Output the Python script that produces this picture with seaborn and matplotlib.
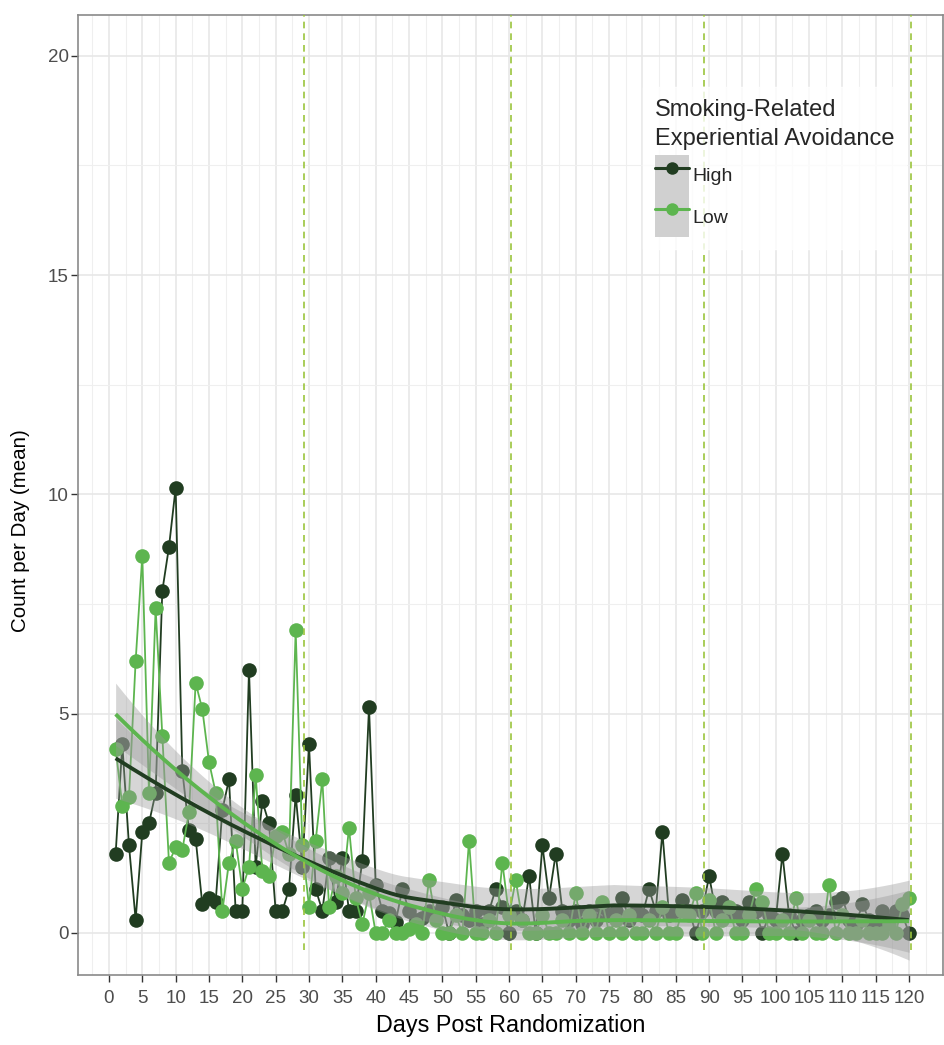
import numpy as np
import pandas as pd
import matplotlib
matplotlib.use("Agg")
import matplotlib.pyplot as plt
import seaborn as sns
from matplotlib.lines import Line2D
from matplotlib.patches import Patch
from matplotlib.legend_handler import HandlerTuple
from matplotlib.ticker import MultipleLocator

# ---- data -------------------------------------------------------------
days = list(range(1, 121))

high_counts = [
    1.8, 4.3, 2.0, 0.3, 2.3, 2.5, 3.2, 7.8, 8.8, 10.15,
    3.7, 2.35, 2.15, 0.65, 0.8, 0.7, 2.8, 3.5, 0.5, 0.5,
    6.0, 1.5, 3.0, 2.5, 0.5, 0.5, 1.0, 3.15, 1.5, 4.3,
    1.0, 0.5, 1.7, 0.7, 1.7, 0.5, 0.5, 1.65, 5.15, 1.1,
    0.5, 0.45, 0.25, 1.0, 0.5, 0.3, 0.35, 0.5, 0.4, 0.6,
    0.0, 0.75, 0.4, 0.3, 0.5, 0.2, 0.5, 1.0, 0.6, 0.0,
    0.5, 0.3, 1.3, 0.0, 2.0, 0.8, 1.8, 0.5, 0.3, 0.5,
    0.2, 0.5, 0.3, 0.6, 0.4, 0.5, 0.8, 0.3, 0.5, 0.4,
    1.0, 0.5, 2.3, 0.4, 0.5, 0.75, 0.5, 0.0, 0.5, 1.3,
    0.5, 0.7, 0.4, 0.5, 0.3, 0.7, 0.5, 0.0, 0.4, 0.3,
    1.8, 0.4, 0.0, 0.3, 0.4, 0.5, 0.3, 0.4, 0.7, 0.8,
    0.3, 0.2, 0.65, 0.3, 0.2, 0.5, 0.3, 0.5, 0.4, 0.0,
]

low_counts = [
    4.2, 2.9, 3.1, 6.2, 8.6, 3.2, 7.4, 4.5, 1.6, 1.95,
    1.9, 2.75, 5.7, 5.1, 3.9, 3.2, 0.5, 1.6, 2.1, 1.0,
    1.5, 3.6, 1.4, 1.3, 2.2, 2.3, 1.8, 6.9, 2.0, 0.6,
    2.1, 3.5, 0.6, 1.3, 0.9, 2.4, 0.8, 0.2, 0.9, 0.0,
    0.0, 0.3, 0.0, 0.0, 0.1, 0.2, 0.0, 1.2, 0.3, 0.0,
    0.0, 0.4, 0.0, 2.1, 0.0, 0.0, 0.3, 0.0, 1.6, 0.4,
    1.2, 0.3, 0.0, 0.0, 0.4, 0.0, 0.0, 0.3, 0.0, 0.9,
    0.0, 0.4, 0.0, 0.7, 0.0, 0.3, 0.0, 0.4, 0.0, 0.0,
    0.3, 0.0, 0.6, 0.0, 0.0, 0.5, 0.4, 0.9, 0.0, 0.75,
    0.0, 0.3, 0.6, 0.0, 0.0, 0.4, 1.0, 0.7, 0.0, 0.0,
    0.3, 0.0, 0.8, 0.0, 0.3, 0.0, 0.0, 1.1, 0.0, 0.4,
    0.0, 0.0, 0.3, 0.0, 0.0, 0.0, 0.2, 0.0, 0.65, 0.8,
]

group_labels = ["High", "Low"]
group_colors = {"High": "#213d21", "Low": "#5db54f"}
phase_days = [29.3, 60.3, 89.3, 120.3]
x_ticks = list(range(0, 121, 5))
y_ticks = [0, 5, 10, 15, 20]

df = pd.DataFrame({
    "Days Post Randomization": days * 2,
    "Count per Day (mean)": high_counts + low_counts,
    "group": ["High"] * len(days) + ["Low"] * len(days),
})


# ---- local quadratic regression (loess) with 95% band -----------------
def loess_fit(x, y, grid, span=0.75):
    x = np.asarray(x, float)
    y = np.asarray(y, float)
    n = len(x)
    q = int(np.floor(span * n))

    def lrow(x0):
        d = np.abs(x - x0)
        h = np.sort(d)[q - 1] * max(1.0, span)
        w = np.clip(1 - (d / h) ** 3, 0, None) ** 3
        X = np.column_stack([np.ones(n), x - x0, (x - x0) ** 2])
        XtW = X.T * w
        return np.linalg.solve(XtW @ X, XtW)[0]

    L = np.array([lrow(v) for v in x])
    resid = y - L @ y
    M = np.eye(n) - L
    delta1 = np.trace(M.T @ M)
    sigma = np.sqrt(resid @ resid / delta1)
    G = np.array([lrow(v) for v in grid])
    fit = G @ y
    se = sigma * np.sqrt((G ** 2).sum(axis=1))
    return fit, fit - 1.98 * se, fit + 1.98 * se


# ---- figure -----------------------------------------------------------
sns.set_theme(style="white")
plt.rcParams["font.family"] = ["Liberation Sans", "DejaVu Sans"]

fig = plt.figure(figsize=(9.45, 10.45), dpi=100)
ax = fig.add_axes([0.0825, 0.067, 0.9155, 0.9186])

sns.lineplot(
    data=df, x="Days Post Randomization", y="Count per Day (mean)",
    hue="group", hue_order=group_labels, palette=group_colors,
    marker="o", markersize=10.5, markeredgewidth=0, linewidth=1.3,
    legend=False, ax=ax, zorder=3,
)

grid = np.linspace(1, 120, 240)
smooths = {g: loess_fit(days, vals, grid)
           for g, vals in zip(group_labels, [high_counts, low_counts])}
for g in group_labels:
    fit, lo, hi = smooths[g]
    ax.fill_between(grid, lo, hi, color="#999999", alpha=0.4, lw=0, zorder=4)
for g in group_labels:
    fit, lo, hi = smooths[g]
    ax.plot(grid, fit, color=group_colors[g], lw=2.8, zorder=5,
            solid_capstyle="butt")

for d in phase_days:
    ax.axvline(d, ymin=0.026, ymax=1.0, color="#9bc53d", lw=1.2,
               ls=(0, (4, 3)), zorder=6)

ax.set_xlim(-4.65, 125.1)
ax.set_ylim(-0.96, 20.93)
ax.set_xticks(x_ticks)
ax.set_yticks(y_ticks)
ax.xaxis.set_minor_locator(MultipleLocator(2.5))
ax.yaxis.set_minor_locator(MultipleLocator(2.5))
ax.grid(which="major", color="#e6e6e6", lw=1.1)
ax.grid(which="minor", color="#efefef", lw=0.8)
ax.set_axisbelow(True)

for s in ax.spines.values():
    s.set_color("#8a8a8a")
    s.set_linewidth(1.2)

ax.tick_params(axis="both", which="major", direction="out", length=5,
               width=1, color="#333333", labelcolor="#4d4d4d",
               labelsize=13.5, bottom=True, left=True)
ax.tick_params(axis="x", pad=6)
ax.tick_params(axis="y", pad=1.5)
ax.tick_params(which="minor", length=0)

ax.set_xlabel("Days Post Randomization", fontsize=16.8, color="black",
              labelpad=5)
ax.set_ylabel("Count per Day (mean)", fontsize=14.8, color="black")
ax.yaxis.set_label_coords(-0.056, 0.4625)

handles = [
    (Patch(facecolor="#d0d0d0", edgecolor="none"),
     Line2D([], [], color=group_colors[g], lw=2.2, marker="o",
            markersize=9, markeredgewidth=0))
    for g in group_labels
]
leg = ax.legend(
    handles, group_labels, title="Smoking-Related\nExperiential Avoidance",
    handler_map={tuple: HandlerTuple(ndivide=1)},
    loc="upper left", bbox_to_anchor=(0.642, 0.935),
    fontsize=14, title_fontsize=17, frameon=True, fancybox=False,
    handlelength=1.75, handleheight=2.9, labelspacing=0.0,
    handletextpad=0.2, borderpad=0.6,
)
leg.get_title().set_linespacing(1.45)
leg._legend_box.sep = 3
leg._legend_box.align = "left"
leg.get_frame().set_facecolor("white")
leg.get_frame().set_edgecolor("white")
leg.set_zorder(7)

fig.savefig("out.png", dpi=100)
